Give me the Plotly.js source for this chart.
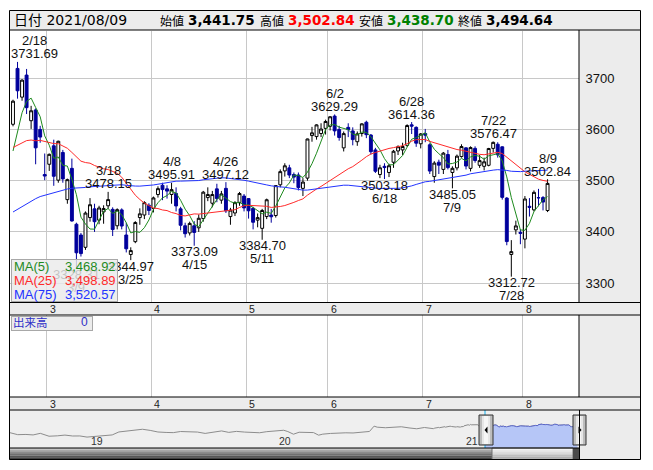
<!DOCTYPE html>
<html><head><meta charset="utf-8">
<script src="https://cdn.plot.ly/plotly-3.0.1.min.js"></script>
<style>html,body{margin:0;padding:0;background:#fff;}#chart{width:653px;height:470px;}</style>
</head><body><div id="chart"></div>
<script>
// ---------------- data ----------------
const dates = ['2021-02-10','2021-02-18','2021-02-19','2021-02-22','2021-02-23','2021-02-24','2021-02-25','2021-02-26',
'2021-03-01','2021-03-02','2021-03-03','2021-03-04','2021-03-05','2021-03-08','2021-03-09','2021-03-10','2021-03-11','2021-03-12','2021-03-15','2021-03-16','2021-03-17','2021-03-18','2021-03-19','2021-03-22','2021-03-23','2021-03-24','2021-03-25','2021-03-26','2021-03-29','2021-03-30','2021-03-31',
'2021-04-01','2021-04-02','2021-04-06','2021-04-07','2021-04-08','2021-04-09','2021-04-12','2021-04-13','2021-04-14','2021-04-15','2021-04-16','2021-04-19','2021-04-20','2021-04-21','2021-04-22','2021-04-23','2021-04-26','2021-04-27','2021-04-28','2021-04-29','2021-04-30',
'2021-05-06','2021-05-07','2021-05-10','2021-05-11','2021-05-12','2021-05-13','2021-05-14','2021-05-17','2021-05-18','2021-05-19','2021-05-20','2021-05-21','2021-05-24','2021-05-25','2021-05-26','2021-05-27','2021-05-28','2021-05-31',
'2021-06-01','2021-06-02','2021-06-03','2021-06-04','2021-06-07','2021-06-08','2021-06-09','2021-06-10','2021-06-11','2021-06-15','2021-06-16','2021-06-17','2021-06-18','2021-06-21','2021-06-22','2021-06-23','2021-06-24','2021-06-25','2021-06-28','2021-06-29','2021-06-30',
'2021-07-01','2021-07-02','2021-07-05','2021-07-06','2021-07-07','2021-07-08','2021-07-09','2021-07-12','2021-07-13','2021-07-14','2021-07-15','2021-07-16','2021-07-19','2021-07-20','2021-07-21','2021-07-22','2021-07-23','2021-07-26','2021-07-27','2021-07-28','2021-07-29','2021-07-30',
'2021-08-02','2021-08-03','2021-08-04','2021-08-05','2021-08-06','2021-08-09'];
const opens = [3610,3719,3663,3706,3617,3638,3600,3512,
3532,3568,3501,3555,3463,3524,3415,3394,3370,3428,3445,3423,3439,3451,3444,3412,3443,3394,3356,3381,3428,3433,3452,
3446,3473,3491,3484,3473,3475,3445,3412,3398,3412,3408,3426,3467,3456,3484,3462,3485,3430,3437,3457,3470,
3465,3446,3423,3407,3430,3433,3432,3492,3519,3525,3512,3511,3485,3505,3588,3586,3592,3602,
3606,3626,3600,3564,3604,3597,3576,3592,3614,3589,3560,3512,3528,3516,3536,3558,3560,3569,3609,3604,3572,
3592,3570,3508,3536,3522,3551,3516,3525,3547,3564,3524,3563,3530,3528,3530,3563,3571,3566,3466,3356,3404,3399,
3386,3450,3443,3467,3467,3441.75];
const highs = [3658,3731.69,3698,3718,3646,3641,3607,3553,
3553,3580,3578,3560,3504,3543,3418,3398,3440,3466,3455,3451,3452,3478.15,3448,3446,3446,3418,3370,3421,3446,3460,3456,
3469,3489,3496,3491,3495.91,3487,3449,3418,3420,3421,3434,3480,3487,3480,3494,3480,3497.12,3447,3460,3478,3474,
3466,3449,3436,3445,3465,3445,3491,3522,3534,3531,3516,3516,3505,3582,3605,3610,3612,3619,
3626,3629.29,3607,3596,3612,3604,3596,3612,3617,3591,3564,3531,3534,3533,3560,3569,3574,3610,3614.36,3606,3593,
3601,3573,3538,3541,3556,3560,3528,3551,3571,3565,3567,3567,3550,3545,3564,3576.47,3575,3567,3468,3384,3422,3405,
3470,3466,3481,3484,3470,3502.84];
const lows = [3606,3660,3656,3630,3601,3532,3574,3501,
3519,3490,3496,3496,3455,3420,3328.31,3352,3365,3420,3400,3415,3416,3445,3392,3405,3405,3360,3344.97,3378,3414,3425,3433,
3438,3467,3462,3465,3455,3440,3403,3389,3393,3373.09,3400,3420,3460,3448,3458,3455,3437,3414,3431,3451,3440,
3426,3405,3409,3384.70,3425,3418,3428,3487,3508,3505,3495,3481,3470,3500,3576,3580,3585,3590,
3598,3588,3578,3557,3585,3569,3568,3586,3583,3551,3515,3505,3503.18,3507,3525,3550,3550,3566,3591,3566,3563,
3575,3513,3496,3513,3513,3522,3485.05,3520,3545,3522,3518,3535,3525,3520,3528,3555,3545,3463,3374,3312.72,3395,3376,
3368,3430,3440,3450,3442,3438.70];
const closes = [3655.09,3675.36,3696.17,3642.44,3636.36,3564.08,3585.05,3509.08,
3551.40,3508.59,3576.90,3503.49,3501.99,3421.41,3359.29,3357.74,3436.83,3453.08,3419.95,3446.73,3445.55,3463.07,3404.66,3443.44,3411.51,3367.06,3363.59,3418.33,3435.30,3457.07,3441.91,
3466.33,3484.39,3482.59,3479.63,3482.55,3450.68,3412.95,3396.47,3416.60,3398.99,3426.62,3477.55,3472.94,3472.93,3465.11,3474.17,3441.17,3442.61,3457.07,3474.90,3446.86,
3441.28,3418.87,3427.99,3441.85,3462.75,3429.54,3490.38,3517.62,3529.01,3510.96,3506.94,3486.56,3497.28,3581.34,3593.36,3608.85,3600.78,3615.48,
3624.71,3597.14,3584.22,3591.84,3599.54,3580.11,3591.40,3610.86,3589.75,3556.56,3518.33,3525.10,3525.60,3529.18,3557.41,3566.22,3566.65,3607.56,3606.37,3573.18,3591.20,
3588.78,3518.76,3534.32,3530.26,3553.72,3525.50,3524.09,3547.84,3566.57,3528.50,3564.59,3539.30,3539.12,3536.79,3562.70,3574.73,3550.40,3467.44,3381.18,3361.59,3411.72,3397.36,
3464.29,3447.99,3477.22,3466.56,3458.23,3494.64];
// closes before the window (needed by the moving averages)
const priorDates = ['2020-10-28','2020-10-29','2020-10-30',
'2020-11-02','2020-11-03','2020-11-04','2020-11-05','2020-11-06','2020-11-09','2020-11-10','2020-11-11','2020-11-12','2020-11-13','2020-11-16','2020-11-17','2020-11-18','2020-11-19','2020-11-20','2020-11-23','2020-11-24','2020-11-25','2020-11-26','2020-11-27','2020-11-30',
'2020-12-01','2020-12-02','2020-12-03','2020-12-04','2020-12-07','2020-12-08','2020-12-09','2020-12-10','2020-12-11','2020-12-14','2020-12-15','2020-12-16','2020-12-17','2020-12-18','2020-12-21','2020-12-22','2020-12-23','2020-12-24','2020-12-25','2020-12-28','2020-12-29','2020-12-30','2020-12-31',
'2021-01-04','2021-01-05','2021-01-06','2021-01-07','2021-01-08','2021-01-11','2021-01-12','2021-01-13','2021-01-14','2021-01-15','2021-01-18','2021-01-19','2021-01-20','2021-01-21','2021-01-22','2021-01-25','2021-01-26','2021-01-27','2021-01-28','2021-01-29',
'2021-02-01','2021-02-02','2021-02-03','2021-02-04','2021-02-05','2021-02-08','2021-02-09'];
const priorCloses = [3269.24,3272.74,3224.53,
3225.12,3271.07,3277.44,3320.13,3312.16,3373.73,3360.15,3342.20,3338.68,3310.10,3346.97,3339.90,3347.30,3363.09,3377.73,3414.49,3402.82,3362.33,3369.73,3408.31,3391.76,
3451.94,3449.38,3442.14,3444.58,3416.60,3410.18,3371.96,3373.28,3347.19,3369.12,3367.23,3366.98,3404.87,3394.90,3420.57,3356.78,3382.32,3363.11,3396.56,3397.29,3379.04,3414.45,3473.07,
3502.96,3528.68,3550.88,3576.20,3570.11,3531.50,3608.34,3598.65,3565.90,3566.38,3596.22,3563.87,3583.09,3621.26,3606.75,3624.24,3569.43,3573.34,3505.18,3483.07,
3533.68,3533.93,3517.31,3501.86,3496.33,3532.44,3603.49];
// long history shown in the navigator strip
const navDates = ['2018-07-31','2018-08-15','2018-08-31','2018-09-14','2018-09-28','2018-10-15','2018-10-31','2018-11-15','2018-11-30','2018-12-14','2018-12-28',
'2019-01-15','2019-01-31','2019-02-15','2019-02-28','2019-03-15','2019-03-29','2019-04-15','2019-04-30','2019-05-15','2019-05-31','2019-06-14','2019-06-28','2019-07-15','2019-07-31','2019-08-15','2019-08-30','2019-09-16','2019-09-30','2019-10-15','2019-10-31','2019-11-15','2019-11-29','2019-12-13','2019-12-31',
'2020-01-15','2020-01-23','2020-02-03','2020-02-14','2020-02-28','2020-03-13','2020-03-23','2020-03-31','2020-04-15','2020-04-30','2020-05-15','2020-05-29','2020-06-15','2020-06-30','2020-07-09','2020-07-15','2020-07-31','2020-08-14','2020-08-31','2020-09-15','2020-09-30','2020-10-15','2020-10-27'];
const navValues = [2876,2705,2725,2682,2821,2568,2603,2668,2588,2594,2494,
2570,2585,2682,2941,3022,3091,3177,3078,2939,2899,2882,2979,2942,2933,2815,2886,3031,2905,2991,2930,2892,2872,2968,3050,
3090,2977,2746,2917,2880,2887,2660,2750,2811,2860,2868,2852,2890,2985,3450,3361,3310,3360,3396,3295,3218,3332,3254];

const maPeriods = [5, 25, 75];
const priceTicks = [3300, 3400, 3500, 3600, 3700];
const monthLabels = ['3','4','5','6','7','8'];
const monthStarts = ['2021-03-01','2021-04-01','2021-05-06','2021-06-01','2021-07-01','2021-08-02'];
const yearLabels = ['19','20','21'];
const yearStarts = ['2019-01-01','2020-01-01','2021-01-01'];
const peakDates = ['2021-02-18','2021-03-18','2021-04-08','2021-04-26','2021-06-02','2021-06-28','2021-07-22','2021-08-09'];
const troughDates = ['2021-03-09','2021-03-25','2021-04-15','2021-05-11','2021-06-18','2021-07-09','2021-07-28'];
const ohlcNames = ['始値','高値','安値','終値'];
const volumeLabel = '出来高';
const volumeValue = 0;

// ---------------- helpers ----------------
const W = 653, H = 470;
const fx = x => x / W, fy = y => 1 - y / H;
const NUM = 'Liberation Sans, Arial, sans-serif';
const JP = 'Noto Sans CJK JP, sans-serif';
const HDR = 'DejaVu Sans, Noto Sans CJK JP, sans-serif';
const md = d => parseInt(d.slice(5,7),10) + '/' + parseInt(d.slice(8,10),10);
const fmt = v => v.toLocaleString('en-US',{minimumFractionDigits:2, maximumFractionDigits:2});
const trunc2 = v => Math.floor(v*100 + 1e-7)/100;
const idx = dates.map((d,i) => i);
const allCloses = priorCloses.concat(closes);
function movingAverage(n){
  return closes.map((c,i) => { const k = priorCloses.length + i; let s = 0; for (let j = k-n+1; j <= k; j++) s += allCloses[j]; return s/n; });
}
const maColors = ['#1e8a1e', '#ff2a2a', '#2233ff'];
const maValues = maPeriods.map(movingAverage);

// x mapping of main panels (index units)
const X0 = 10, X1 = 579;
const xRange = [-0.662, 124.94];
const pxPerUnit = (X1 - X0) / (xRange[1] - xRange[0]);

function rect(x0,y0,x1,y1,fill,line,layer){
  return {type:'rect',xref:'paper',yref:'paper',x0:fx(x0),x1:fx(x1),y0:fy(y1),y1:fy(y0),
    fillcolor:fill||'rgba(0,0,0,0)',line:{width:line?1:0,color:line||'rgba(0,0,0,0)'},layer:layer||'below'};
}
function seg(x0,y0,x1,y1,color,layer){
  return {type:'line',xref:'paper',yref:'paper',x0:fx(x0),x1:fx(x1),y0:fy(y0),y1:fy(y1),line:{width:1,color:color||'#000'},layer:layer||'above'};
}

// ---------------- traces ----------------
const traces = [];
traces.push({type:'candlestick', x:idx, open:opens, high:highs, low:lows, close:closes,
  xaxis:'x', yaxis:'y', whiskerwidth:0, hoverinfo:'skip', showlegend:false,
  increasing:{line:{color:'#000000',width:1}, fillcolor:'#ffffff'},
  decreasing:{line:{color:'#00009c',width:1}, fillcolor:'#00009c'}});
maValues.forEach((arr,k) => traces.push({type:'scatter', mode:'lines', x:idx, y:arr, xaxis:'x', yaxis:'y',
  line:{color:maColors[k], width:1}, hoverinfo:'skip', showlegend:false}));
// volume panel (empty)
traces.push({type:'scatter', mode:'lines', x:[], y:[], xaxis:'x2', yaxis:'y2', showlegend:false, hoverinfo:'skip'});
// navigator
const navX = navDates.concat(priorDates, dates);
const navY = navValues.concat(priorCloses, closes);
traces.push({type:'scatter', mode:'lines', x:navX, y:navY, xaxis:'x3', yaxis:'y3',
  line:{color:'#8c8c8c', width:1}, hoverinfo:'skip', showlegend:false});
traces.push({type:'scatter', mode:'lines', x:dates, y:closes, xaxis:'x3', yaxis:'y3', fill:'tozeroy',
  fillcolor:'#b6c6f7', line:{color:'#5a66cc', width:1}, hoverinfo:'skip', showlegend:false});

// ---------------- shapes ----------------
const shapes = [];
shapes.push(rect(9.5,10.5,640.5,30,'#ececec'));
shapes.push(rect(579,30,640.5,302.5,'#ececec'));
shapes.push(rect(9.5,302.5,640.5,315,'#ececec'));
shapes.push(rect(579,315,640.5,397,'#ececec'));
shapes.push(rect(9.5,397,640.5,410,'#ececec'));
shapes.push(rect(9.5,410,579,448,'#efefef'));
shapes.push(rect(579,410,640.5,459.5,'#ececec'));
// scrollbar gradient bands
const sbBands = ['#c4c4c4','#a8a8a8','#8c8c8c','#707070','#565656','#404040'];
sbBands.forEach((c,k) => shapes.push(rect(9.5, 448 + k*11.5/6, 579, 448 + (k+1)*11.5/6 + 0.2, c)));
const thumbBands = ['#f4f4f4','#e8e8e8','#dcdcdc','#d0d0d0','#c4c4c4','#b4b4b4'];
thumbBands.forEach((c,k) => shapes.push(rect(492, 448 + k*11.5/6, 573, 448 + (k+1)*11.5/6 + 0.2, c, null, 'above')));
shapes.push(rect(492,448,573,459.5,null,'#707070','above'));
shapes.push(rect(573,448,579,459.5,'#4a4a4a',null,'above'));
// navigator selection edges
shapes.push(seg(485,410,485,448,'#10b0ee'));
shapes.push(seg(579.5,410,579.5,448,'#10b0ee'));
// handles
[[479,493],[573,586]].forEach(([a,b]) => {
  shapes.push(rect(a,415,b,445,'#bdbdbd','#333333','above'));
  shapes.push(rect(a+3,416,b-3,444,'#e6e6e6',null,'above'));
  shapes.push(rect(a+5,416,b-5,444,'#f6f6f6',null,'above'));
});
shapes.push({type:'path',xref:'paper',yref:'paper',layer:'above',fillcolor:'#000',line:{width:0},
  path:`M ${fx(484.5)} ${fy(430)} L ${fx(487.5)} ${fy(426.5)} L ${fx(487.5)} ${fy(433.5)} Z`});
shapes.push({type:'path',xref:'paper',yref:'paper',layer:'above',fillcolor:'#000',line:{width:0},
  path:`M ${fx(581.5)} ${fy(430)} L ${fx(578.5)} ${fy(426.5)} L ${fx(578.5)} ${fy(433.5)} Z`});
// frame lines
shapes.push(rect(9.5,10.5,640.5,459.5,null,'#000','above'));
shapes.push(seg(9.5,30,640.5,30));
shapes.push(seg(9.5,302.5,640.5,302.5));
shapes.push(seg(9.5,315,640.5,315));
shapes.push(seg(9.5,397,640.5,397));
shapes.push(seg(9.5,410,640.5,410));
shapes.push(seg(9.5,448,579,448));
shapes.push(seg(579,30,579,302.5));
shapes.push(seg(579,315,579,397));
shapes.push(seg(579.5,410,579.5,459.5));

// ---------------- annotations ----------------
const ann = [];
function txt(x,y,t,opt){
  return Object.assign({xref:'paper',yref:'paper',x:fx(x),y:fy(y),text:t,showarrow:false,
    xanchor:'left',yanchor:'middle',font:{family:NUM,size:13,color:'#000'}},opt||{});
}
// header
const last = dates.length - 1;
const hdrVals = [opens[last], highs[last], lows[last], closes[last]];
const hdrCols = ['#000000','#ff0000','#008000','#000000'];
const hdrX = [159, 259, 358, 457];
ann.push(txt(12,20.5,'日付 ' + dates[last].replace(/-/g,'/'),{font:{family:HDR,size:14,color:'#000'}}));
ohlcNames.forEach((n,k) => {
  ann.push(txt(hdrX[k]-1,20.5,n,{font:{family:JP,size:12,color:'#000'}}));
  ann.push(txt(hdrX[k]+27,20.5,fmt(hdrVals[k]),{font:{family:'DejaVu Sans, sans-serif',size:13.5,color:hdrCols[k],weight:'bold'}}));
});
// month labels (both strips)
monthStarts.forEach((d,k) => {
  const i = dates.indexOf(d);
  [['x',308.5],['x2',403.5]].forEach(([xr,yy]) => ann.push({xref:xr,yref:'paper',x:i-0.5,y:fy(yy),text:monthLabels[k],
    showarrow:false,xanchor:'left',yanchor:'middle',xshift:1,font:{family:NUM,size:10.5,color:'#222'}}));
});
// year labels in navigator
yearStarts.forEach((d,k) => ann.push({xref:'x3',yref:'paper',x:d,y:fy(441),text:yearLabels[k],showarrow:false,
  xanchor:'left',yanchor:'middle',xshift:0,font:{family:NUM,size:10.5,color:'#333'}}));
// high / low labels
function clampShift(i, label){
  const xc = X0 + (i - xRange[0]) * pxPerUnit;
  const half = label.length * 3.4;
  return Math.max(0, X0 + 1 + half - xc) - Math.max(0, xc + half - (X1 - 1));
}
const lblFont = {family:NUM,size:13,color:'#111'};
peakDates.forEach(d => {
  const i = dates.indexOf(d), v = highs[i], s = clampShift(i, v.toFixed(2));
  ann.push({xref:'x',yref:'y',x:i,y:v,text:v.toFixed(2),showarrow:false,xanchor:'center',yanchor:'middle',yshift:8,xshift:s,font:lblFont});
  ann.push({xref:'x',yref:'y',x:i,y:v,text:md(d),showarrow:false,xanchor:'center',yanchor:'middle',yshift:21,xshift:s,font:lblFont});
});
troughDates.forEach(d => {
  const i = dates.indexOf(d), v = lows[i], s = clampShift(i, v.toFixed(2));
  ann.push({xref:'x',yref:'y',x:i,y:v,text:v.toFixed(2),showarrow:false,xanchor:'center',yanchor:'middle',yshift:-6,xshift:s,font:lblFont});
  ann.push({xref:'x',yref:'y',x:i,y:v,text:md(d),showarrow:false,xanchor:'center',yanchor:'middle',yshift:-19,xshift:s,font:lblFont});
});
// MA legend box (drawn over the labels, as in the original)
ann.push({xref:'paper',yref:'paper',x:fx(10.5),y:fy(259),xanchor:'left',yanchor:'top',text:' ',showarrow:false,
  width:105,height:41,bgcolor:'rgba(234,234,234,0.82)',bordercolor:'#a8a8a8',borderwidth:1,borderpad:0});
maPeriods.forEach((p,k) => {
  const y = 266 + k*14;
  ann.push(txt(11.5,y,'MA(' + p + ')',{font:{family:NUM,size:13,color:maColors[k]}}));
  ann.push(txt(117.5,y,fmt(trunc2(maValues[k][last])),{xanchor:'right',font:{family:NUM,size:13,color:maColors[k]}}));
});
// volume legend
ann.push({xref:'paper',yref:'paper',x:fx(10.5),y:fy(315.5),xanchor:'left',yanchor:'top',text:' ',showarrow:false,
  width:80,height:12.5,bgcolor:'#ececec',bordercolor:'#a8a8a8',borderwidth:1,borderpad:0});
ann.push(txt(11,322,volumeLabel,{font:{family:JP,size:11.5,color:'#2f2fc8'}}));
ann.push(txt(90,322,String(volumeValue),{xanchor:'right',font:{family:NUM,size:12,color:'#2f2fc8'}}));

// ---------------- layout ----------------
const monthGrid = monthStarts.map(d => dates.indexOf(d) - 0.5);
const layout = {
  width:W, height:H, margin:{l:0,r:0,t:0,b:0}, paper_bgcolor:'#ffffff', plot_bgcolor:'rgba(0,0,0,0)',
  showlegend:false, dragmode:false, boxgap:0.2, boxgroupgap:0.2,
  xaxis:{domain:[fx(X0),fx(X1)], range:xRange, anchor:'y', tickmode:'array', tickvals:monthGrid, showticklabels:false,
    showgrid:true, gridcolor:'#c8c8c8', gridwidth:1, zeroline:false, showline:false, ticks:'', rangeslider:{visible:false}, fixedrange:true},
  yaxis:{domain:[fy(302.5),fy(30.5)], range:[3262.3,3793], anchor:'x', side:'right', tickmode:'array', tickvals:priceTicks,
    ticktext:priceTicks.map(String), showgrid:true, gridcolor:'#c8c8c8', gridwidth:1, zeroline:false, showline:false,
    ticks:'outside', ticklen:3, tickcolor:'rgba(0,0,0,0)', tickfont:{family:NUM,size:13,color:'#111'}, fixedrange:true},
  xaxis2:{domain:[fx(X0),fx(X1)], range:xRange, anchor:'y2', tickmode:'array', tickvals:monthGrid, showticklabels:false,
    showgrid:true, gridcolor:'#c8c8c8', gridwidth:1, zeroline:false, showline:false, ticks:''},
  yaxis2:{domain:[fy(397),fy(315)], range:[0,1], anchor:'x2', showgrid:false, showticklabels:false, zeroline:false, showline:false, ticks:''},
  xaxis3:{domain:[fx(X0),fx(X1)], type:'date', range:['2018-07-31','2021-08-12'], anchor:'y3', showgrid:false, showticklabels:false, zeroline:false, showline:false, ticks:''},
  yaxis3:{domain:[fy(448),fy(410)], range:[1540,4860], anchor:'x3', showgrid:false, showticklabels:false, zeroline:false, showline:false, ticks:''},
  shapes:shapes, annotations:ann
};
Plotly.newPlot('chart', traces, layout, {staticPlot:true, displayModeBar:false});
</script>
</body></html>
